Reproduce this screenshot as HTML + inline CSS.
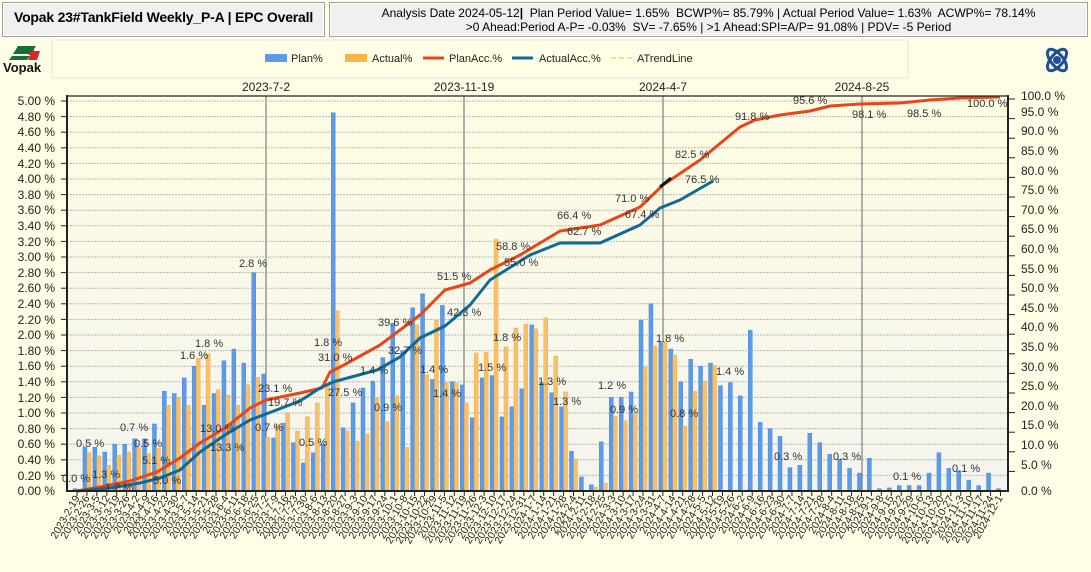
<!DOCTYPE html>
<html><head><meta charset="utf-8"><style>
body{margin:0;width:1091px;height:572px;background:#fffde6;overflow:hidden;font-family:"Liberation Sans",sans-serif}
.hb{position:absolute;top:2px;height:33px;background:#f0f0f0;border:1px solid #a0a0a0;box-shadow:inset 0 0 0 1px #fff}
</style></head><body>
<div class="hb" style="left:2px;width:321px;font-weight:bold;font-size:14px;letter-spacing:-0.2px;line-height:29px;text-align:center;white-space:nowrap">Vopak 23#TankField Weekly_P-A | EPC Overall</div>
<div class="hb" style="left:329px;width:757px;font-size:12px;line-height:14px;text-align:center;padding-top:3px;height:30px">Analysis Date 2024-05-12<b>|</b>&nbsp; Plan Period Value= 1.65%&nbsp; BCWP%= 85.79% | Actual Period Value= 1.63%&nbsp; ACWP%= 78.14%<br>&gt;0 Ahead:Period A-P= -0.03%&nbsp; SV= -7.65% | &gt;1 Ahead:SPI=A/P= 91.08% | PDV= -5 Period</div>
<svg width="1091" height="572" style="position:absolute;left:0;top:0" font-family="Liberation Sans, sans-serif">
<defs><linearGradient id="bg" x1="0" y1="0" x2="0" y2="1"><stop offset="0" stop-color="#fffde3"/><stop offset="1" stop-color="#f4f4ef"/></linearGradient></defs>
<polygon points="18,46 36,46 31,54 13,54" fill="#1a6b3a"/>
<polygon points="28,55 34,49 34,55" fill="#d9262b"/>
<polygon points="12,56 30,56 27,60 9,60" fill="#1a6b3a"/>
<polygon points="32,51 40,51 37,60 28,60" fill="#d9262b"/>
<text x="3" y="72" font-size="13" font-weight="bold" fill="#111">Vopak</text>
<g transform="translate(1057,60)" fill="none" stroke="#1e4f96" stroke-width="3">
<ellipse rx="13" ry="6" transform="rotate(50)"/><ellipse rx="13" ry="6" transform="rotate(-50)"/><circle r="2.5" fill="#1e4f96"/></g>
<rect x="52" y="40" width="856" height="38" fill="#fffde6" stroke="#e4e4e4"/>
<g font-size="11" fill="#222">
<rect x="265" y="54" width="22" height="8" fill="#5b9bea"/><text x="291" y="62">Plan%</text>
<rect x="345" y="54" width="22" height="8" fill="#f9b448"/><text x="372" y="62">Actual%</text>
<line x1="423" y1="58" x2="444" y2="58" stroke="#e8461a" stroke-width="3"/><text x="449" y="62">PlanAcc.%</text>
<line x1="512" y1="58" x2="533" y2="58" stroke="#116a95" stroke-width="3"/><text x="539" y="62">ActualAcc.%</text>
<line x1="611" y1="58" x2="632" y2="58" stroke="#ffe08a" stroke-width="2" stroke-dasharray="5,3"/><text x="637" y="62">ATrendLine</text>
</g>
<rect x="67" y="96" width="941" height="395" fill="url(#bg)"/>
<g id="grid"></g>
<g stroke="#888" stroke-width="1.3"><line x1="266" y1="96" x2="266" y2="491"/><line x1="464" y1="96" x2="464" y2="491"/><line x1="663" y1="96" x2="663" y2="491"/><line x1="862" y1="96" x2="862" y2="491"/></g>
<g font-size="12" fill="#222" text-anchor="middle"><text x="266" y="91">2023-7-2</text><text x="464" y="91">2023-11-19</text><text x="663" y="91">2024-4-7</text><text x="862" y="91">2024-8-25</text></g>
<g id="bars"></g>
<polyline fill="none" stroke="#e8461a" stroke-width="3" stroke-linejoin="round" points="77,491 100,487 130,481 157,472 180,458 200,443 225,428 250,408 266,400 300,393 322,388 330,372 342,366 380,345 420,315 445,290 470,283 490,270 520,255 560,231 600,225 640,207 663,185 700,160 740,127 755,120 780,115 810,111 830,106 860,104 900,103 930,100 960,98 1000,97"/>
<line x1="660" y1="187" x2="671" y2="178" stroke="#111" stroke-width="3"/>
<polyline fill="none" stroke="#116a95" stroke-width="3" stroke-linejoin="round" points="77,491 110,488 140,483 160,478 180,470 200,452 225,435 250,420 266,414 300,401 320,388 333,382 377,370 400,357 420,338 445,326 470,305 490,280 530,255 560,243 600,243 640,225 660,208 680,200 713,181"/>
<g stroke="#222" stroke-width="2"><line x1="67" y1="95" x2="67" y2="492"/><line x1="66" y1="491" x2="1008" y2="491"/><line x1="1008" y1="95" x2="1008" y2="492"/><line x1="66" y1="96" x2="1008" y2="96" stroke-width="1.3"/></g>
<g id="ticks" stroke="#222" stroke-width="1"></g>
<g font-size="12" fill="#222" text-anchor="end">
<text x="55" y="105">5.00 %</text><text x="55" y="121">4.80 %</text><text x="55" y="136">4.60 %</text><text x="55" y="152">4.40 %</text><text x="55" y="168">4.20 %</text><text x="55" y="183">4.00 %</text><text x="55" y="199">3.80 %</text><text x="55" y="214">3.60 %</text><text x="55" y="230">3.40 %</text><text x="55" y="246">3.20 %</text><text x="55" y="261">3.00 %</text><text x="55" y="277">2.80 %</text><text x="55" y="292">2.60 %</text><text x="55" y="308">2.40 %</text><text x="55" y="324">2.20 %</text><text x="55" y="339">2.00 %</text><text x="55" y="355">1.80 %</text><text x="55" y="370">1.60 %</text><text x="55" y="386">1.40 %</text><text x="55" y="402">1.20 %</text><text x="55" y="417">1.00 %</text><text x="55" y="433">0.80 %</text><text x="55" y="448">0.60 %</text><text x="55" y="464">0.40 %</text><text x="55" y="480">0.20 %</text><text x="55" y="495">0.00 %</text>
</g>
<g font-size="12" fill="#222">
<text x="1021" y="100">100.0 %</text><text x="1021" y="116">95.0 %</text><text x="1021" y="135">90.0 %</text><text x="1021" y="155">85.0 %</text><text x="1021" y="175">80.0 %</text><text x="1021" y="194">75.0 %</text><text x="1021" y="214">70.0 %</text><text x="1021" y="233">65.0 %</text><text x="1021" y="253">60.0 %</text><text x="1021" y="273">55.0 %</text><text x="1021" y="292">50.0 %</text><text x="1021" y="312">45.0 %</text><text x="1021" y="331">40.0 %</text><text x="1021" y="351">35.0 %</text><text x="1021" y="371">30.0 %</text><text x="1021" y="390">25.0 %</text><text x="1021" y="410">20.0 %</text><text x="1021" y="429">15.0 %</text><text x="1021" y="449">10.0 %</text><text x="1021" y="469">5.0 %</text><text x="1021" y="495">0.0 %</text>
</g>
<g font-size="11" fill="#333">
<text x="62" y="482">0.0 %</text><text x="76" y="447">0.5 %</text><text x="92" y="478">1.3 %</text><text x="105" y="491">1.2 %</text><text x="120" y="431">0.7 %</text><text x="134" y="447">0.5 %</text><text x="142" y="464">5.1 %</text><text x="153" y="484">5.0 %</text>
<text x="180" y="359">1.6 %</text><text x="195" y="347">1.8 %</text><text x="200" y="432">13.0 %</text><text x="210" y="451">13.3 %</text><text x="239" y="267">2.8 %</text><text x="258" y="392">23.1 %</text><text x="268" y="406">19.7 %</text><text x="255" y="431">0.7 %</text><text x="299" y="446">0.5 %</text>
<text x="314" y="346">1.8 %</text><text x="318" y="361">31.0 %</text><text x="328" y="396">27.5 %</text><text x="374" y="411">0.9 %</text><text x="360" y="374">1.4 %</text><text x="378" y="326">39.6 %</text><text x="388" y="354">32.7 %</text><text x="420" y="373">1.4 %</text><text x="433" y="397">1.4 %</text>
<text x="437" y="280">51.5 %</text><text x="447" y="316">42.3 %</text><text x="478" y="371">1.5 %</text><text x="493" y="341">1.8 %</text><text x="496" y="250">58.8 %</text><text x="504" y="266">55.0 %</text><text x="538" y="385">1.3 %</text><text x="553" y="405">1.3 %</text><text x="557" y="219">66.4 %</text><text x="567" y="235">62.7 %</text>
<text x="598" y="389">1.2 %</text><text x="610" y="413">0.9 %</text><text x="615" y="202">71.0 %</text><text x="625" y="218">67.4 %</text><text x="656" y="342">1.8 %</text><text x="670" y="417">0.8 %</text><text x="675" y="158">82.5 %</text><text x="685" y="183">76.5 %</text><text x="716" y="375">1.4 %</text>
<text x="735" y="120">91.8 %</text><text x="793" y="104">95.6 %</text><text x="774" y="460">0.3 %</text><text x="833" y="460">0.3 %</text><text x="852" y="118">98.1 %</text><text x="907" y="117">98.5 %</text><text x="967" y="107">100.0 %</text><text x="893" y="480">0.1 %</text><text x="952" y="472">0.1 %</text>
</g>
<g font-size="10.5" fill="#222" text-anchor="end">
<text transform="translate(80,498) rotate(-60)">2023-2-19</text><text transform="translate(90,498) rotate(-60)">2023-2-26</text><text transform="translate(100,498) rotate(-60)">2023-3-5</text><text transform="translate(110,498) rotate(-60)">2023-3-12</text><text transform="translate(120,498) rotate(-60)">2023-3-19</text><text transform="translate(130,498) rotate(-60)">2023-3-26</text><text transform="translate(140,498) rotate(-60)">2023-4-2</text><text transform="translate(150,498) rotate(-60)">2023-4-9</text><text transform="translate(159,498) rotate(-60)">2023-4-16</text><text transform="translate(169,498) rotate(-60)">2023-4-23</text><text transform="translate(179,498) rotate(-60)">2023-4-30</text><text transform="translate(189,498) rotate(-60)">2023-5-7</text><text transform="translate(199,498) rotate(-60)">2023-5-14</text><text transform="translate(209,498) rotate(-60)">2023-5-21</text><text transform="translate(219,498) rotate(-60)">2023-5-28</text><text transform="translate(229,498) rotate(-60)">2023-6-4</text><text transform="translate(239,498) rotate(-60)">2023-6-11</text><text transform="translate(249,498) rotate(-60)">2023-6-18</text><text transform="translate(259,498) rotate(-60)">2023-6-25</text><text transform="translate(269,498) rotate(-60)">2023-7-2</text><text transform="translate(279,498) rotate(-60)">2023-7-9</text><text transform="translate(289,498) rotate(-60)">2023-7-16</text><text transform="translate(298,498) rotate(-60)">2023-7-23</text><text transform="translate(308,498) rotate(-60)">2023-7-30</text><text transform="translate(318,498) rotate(-60)">2023-8-6</text><text transform="translate(328,498) rotate(-60)">2023-8-13</text><text transform="translate(338,498) rotate(-60)">2023-8-20</text><text transform="translate(348,498) rotate(-60)">2023-8-27</text><text transform="translate(358,498) rotate(-60)">2023-9-3</text><text transform="translate(368,498) rotate(-60)">2023-9-10</text><text transform="translate(378,498) rotate(-60)">2023-9-17</text><text transform="translate(388,498) rotate(-60)">2023-9-24</text><text transform="translate(398,498) rotate(-60)">2023-10-1</text><text transform="translate(408,498) rotate(-60)">2023-10-8</text><text transform="translate(418,498) rotate(-60)">2023-10-15</text><text transform="translate(428,498) rotate(-60)">2023-10-22</text><text transform="translate(437,498) rotate(-60)">2023-10-29</text><text transform="translate(447,498) rotate(-60)">2023-11-5</text><text transform="translate(457,498) rotate(-60)">2023-11-12</text><text transform="translate(467,498) rotate(-60)">2023-11-19</text><text transform="translate(477,498) rotate(-60)">2023-11-26</text><text transform="translate(487,498) rotate(-60)">2023-12-3</text><text transform="translate(497,498) rotate(-60)">2023-12-10</text><text transform="translate(507,498) rotate(-60)">2023-12-17</text><text transform="translate(517,498) rotate(-60)">2023-12-24</text><text transform="translate(527,498) rotate(-60)">2023-12-31</text><text transform="translate(537,498) rotate(-60)">2024-1-7</text><text transform="translate(547,498) rotate(-60)">2024-1-14</text><text transform="translate(557,498) rotate(-60)">2024-1-21</text><text transform="translate(567,498) rotate(-60)">2024-1-28</text><text transform="translate(577,498) rotate(-60)">2024-2-4</text><text transform="translate(586,498) rotate(-60)">2024-2-11</text><text transform="translate(596,498) rotate(-60)">2024-2-18</text><text transform="translate(606,498) rotate(-60)">2024-2-25</text><text transform="translate(616,498) rotate(-60)">2024-3-3</text><text transform="translate(626,498) rotate(-60)">2024-3-10</text><text transform="translate(636,498) rotate(-60)">2024-3-17</text><text transform="translate(646,498) rotate(-60)">2024-3-24</text><text transform="translate(656,498) rotate(-60)">2024-3-31</text><text transform="translate(666,498) rotate(-60)">2024-4-7</text><text transform="translate(676,498) rotate(-60)">2024-4-14</text><text transform="translate(686,498) rotate(-60)">2024-4-21</text><text transform="translate(696,498) rotate(-60)">2024-4-28</text><text transform="translate(706,498) rotate(-60)">2024-5-5</text><text transform="translate(716,498) rotate(-60)">2024-5-12</text><text transform="translate(725,498) rotate(-60)">2024-5-19</text><text transform="translate(735,498) rotate(-60)">2024-5-26</text><text transform="translate(745,498) rotate(-60)">2024-6-2</text><text transform="translate(755,498) rotate(-60)">2024-6-9</text><text transform="translate(765,498) rotate(-60)">2024-6-16</text><text transform="translate(775,498) rotate(-60)">2024-6-23</text><text transform="translate(785,498) rotate(-60)">2024-6-30</text><text transform="translate(795,498) rotate(-60)">2024-7-7</text><text transform="translate(805,498) rotate(-60)">2024-7-14</text><text transform="translate(815,498) rotate(-60)">2024-7-21</text><text transform="translate(825,498) rotate(-60)">2024-7-28</text><text transform="translate(835,498) rotate(-60)">2024-8-4</text><text transform="translate(845,498) rotate(-60)">2024-8-11</text><text transform="translate(855,498) rotate(-60)">2024-8-18</text><text transform="translate(865,498) rotate(-60)">2024-8-25</text><text transform="translate(874,498) rotate(-60)">2024-9-1</text><text transform="translate(884,498) rotate(-60)">2024-9-8</text><text transform="translate(894,498) rotate(-60)">2024-9-15</text><text transform="translate(904,498) rotate(-60)">2024-9-22</text><text transform="translate(914,498) rotate(-60)">2024-9-29</text><text transform="translate(924,498) rotate(-60)">2024-10-6</text><text transform="translate(934,498) rotate(-60)">2024-10-13</text><text transform="translate(944,498) rotate(-60)">2024-10-20</text><text transform="translate(954,498) rotate(-60)">2024-10-27</text><text transform="translate(964,498) rotate(-60)">2024-11-3</text><text transform="translate(974,498) rotate(-60)">2024-11-10</text><text transform="translate(984,498) rotate(-60)">2024-11-17</text><text transform="translate(994,498) rotate(-60)">2024-11-24</text><text transform="translate(1003,498) rotate(-60)">2024-12-1</text>
</g>
</svg>
<script>
var NS="http://www.w3.org/2000/svg";
function el(p,t,a){var e=document.createElementNS(NS,t);for(var k in a)e.setAttribute(k,a[k]);p.appendChild(e);return e;}
var P=[.03,.56,.56,.5,.6,.6,.67,.67,.86,1.28,1.25,1.45,1.6,1.1,1.25,1.67,1.82,1.64,2.8,1.5,.68,.87,.62,.36,.49,.6,4.85,.81,1.13,1.32,1.41,1.71,2.15,1.8,2.35,2.53,1.43,2.38,1.4,1.36,.94,1.45,1.48,.95,1.08,1.31,2.13,1.39,1.26,1.08,.51,.18,.08,.63,1.2,1.2,1.27,2.19,2.4,1.91,1.82,1.4,1.69,1.6,1.64,1.35,1.39,1.22,2.06,.88,.8,.7,.3,.33,.74,.62,.47,.41,.29,.23,.42,.03,.04,.07,.07,.07,.23,.49,.29,.26,.14,.07,.23,.03];
var A=[.02,.49,.45,.33,.46,.5,.56,.48,.55,1.1,1.2,1.1,1.7,1.76,1.3,1.23,1.1,1.36,1.46,.69,.85,1.0,.77,.95,1.13,1.35,2.31,.77,.64,.73,1.19,.89,1.22,.56,2.13,1.49,2.19,1.39,1.38,1.13,1.77,1.78,3.23,1.85,2.09,2.14,2.08,2.22,1.73,1.27,.41,0,.05,.1,.96,.9,1.0,1.59,1.86,1.91,1.74,.83,1.28,1.41,1.61];
var g=document.getElementById('grid'),b=document.getElementById('bars'),t=document.getElementById('ticks');
for(var k=1;k<=25;k++){var y=491-k*15.6;el(g,'line',{x1:67,x2:1008,y1:y,y2:y,stroke:'#b8b8b8','stroke-dasharray':'2,1'});el(t,'line',{x1:61,x2:67,y1:y,y2:y});}
for(var k=1;k<=20;k++){var y=491-k*19.6;el(t,'line',{x1:1008,x2:1015,y1:y,y2:y});}
for(var i=0;i<94;i++){var x=77+i*9.93;el(t,'line',{x1:x,x2:x,y1:491,y2:496});
 var h=P[i]*78;el(b,'rect',{x:x-4,y:491-h,width:4,height:h,fill:'#5b9bea',stroke:'#3f7fd0','stroke-width':.4});
 if(i<A.length&&A[i]>0){h=A[i]*78;el(b,'rect',{x:x,y:491-h,width:4,height:h,fill:'#f9c068',stroke:'#eaa63c','stroke-width':.4});}}
</script>
</body></html>
